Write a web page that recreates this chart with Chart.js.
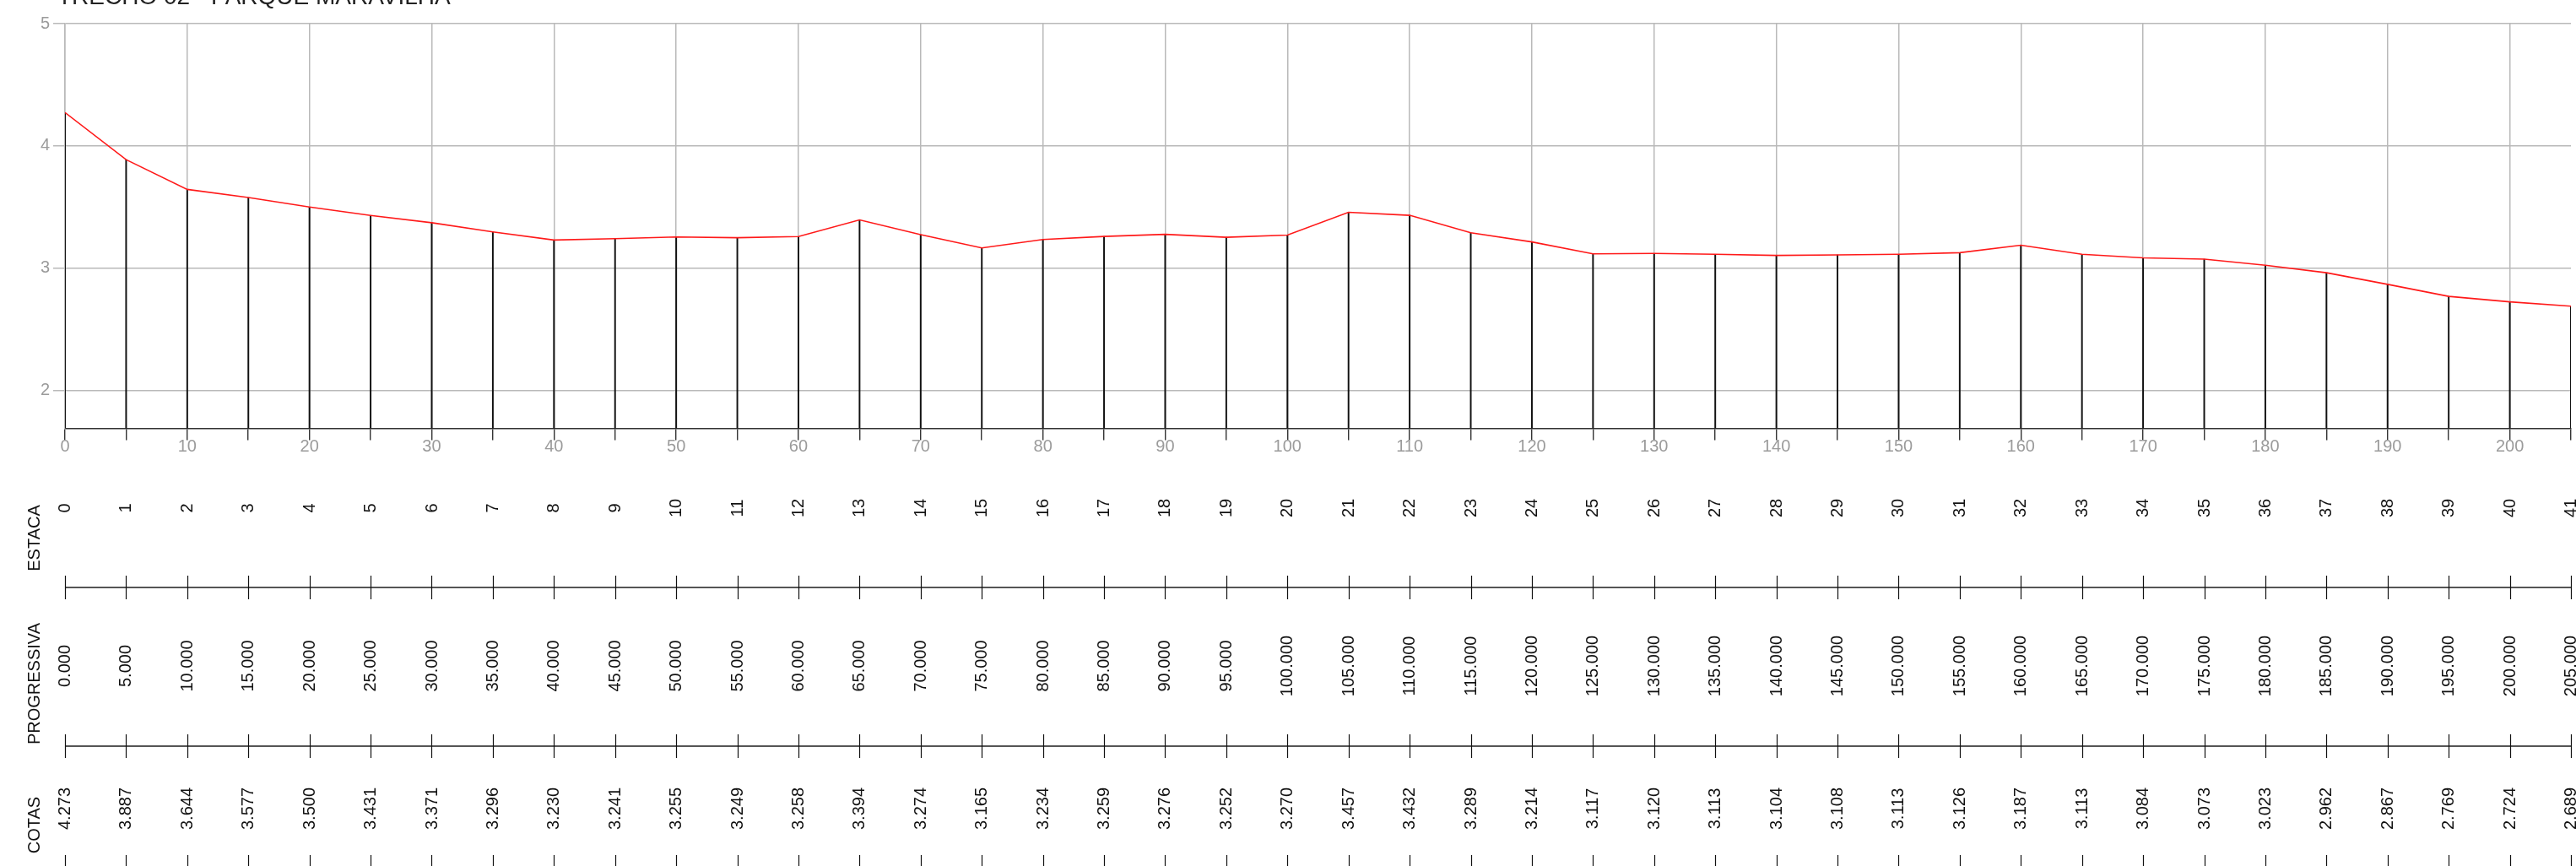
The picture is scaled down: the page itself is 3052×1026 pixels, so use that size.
<!DOCTYPE html>
<html>
<head>
<meta charset="utf-8">
<script src="https://cdn.jsdelivr.net/npm/chart.js@4.4.1/dist/chart.umd.min.js"></script>
<style>
html,body{margin:0;padding:0;background:#fff;overflow:hidden}
canvas{display:block}
</style>
</head>
<body>
<canvas id="c" width="3052" height="1026"></canvas>
<script>
// ---- data ----
const chartTitle = 'TRECHO 02 - PARQUE MARAVILHA';
const rowLabels = ['ESTACA', 'PROGRESSIVA', 'COTAS'];
const estaca = [0,1,2,3,4,5,6,7,8,9,10,11,12,13,14,15,16,17,18,19,20,21,22,23,24,25,26,27,28,29,30,31,32,33,34,35,36,37,38,39,40,41];
const progressiva = [0,5,10,15,20,25,30,35,40,45,50,55,60,65,70,75,80,85,90,95,100,105,110,115,120,125,130,135,140,145,150,155,160,165,170,175,180,185,190,195,200,205];
const cotas = [4.273,3.887,3.644,3.577,3.500,3.431,3.371,3.296,3.230,3.241,3.255,3.249,3.258,3.394,3.274,3.165,3.234,3.259,3.276,3.252,3.270,3.457,3.432,3.289,3.214,3.117,3.120,3.113,3.104,3.108,3.113,3.126,3.187,3.113,3.084,3.073,3.023,2.962,2.867,2.769,2.724,2.689];
const yMin = 1.689, yMax = 5;
const xMin = 0, xMax = 205;

// ---- styling ----
const FONT = "'Liberation Sans', Arial, Helvetica, sans-serif";
const GRID = '#b9b9b9';
const AXIS_TEXT = '#9b9b9b';

const points = progressiva.map((p, i) => ({x: p, y: cotas[i]}));

const titlePlugin = {
  id: 'topTitle',
  afterDraw(chart) {
    const c = chart.ctx;
    c.save();
    c.font = '28px ' + FONT;
    c.fillStyle = '#222';
    c.textAlign = 'left';
    c.textBaseline = 'alphabetic';
    c.fillText(chartTitle, 68, 4.5);
    c.restore();
  }
};

const tablePlugin = {
  id: 'profileTable',
  afterDraw(chart) {
    const c = chart.ctx;
    const xs = chart.scales.x;
    const area = chart.chartArea;
    const rows = [
      {label: rowLabels[0], texts: estaca.map(String), cy: 602, ly: 637.5},
      {label: rowLabels[1], texts: progressiva.map(v => v.toFixed(3)), cy: 789, ly: 810},
      {label: rowLabels[2], texts: cotas.map(v => v.toFixed(3)), cy: 958, ly: 977.5}
    ];
    const sepLines = [696, 884, 1027];
    c.save();
    c.font = '20px ' + FONT;
    c.fillStyle = '#111';
    c.textAlign = 'center';
    c.textBaseline = 'middle';
    rows.forEach(r => {
      // row title
      c.save();
      c.translate(41.5, r.ly);
      c.rotate(-Math.PI / 2);
      c.fillText(r.label, 0, 0);
      c.restore();
      r.texts.forEach((t, i) => {
        const px = xs.getPixelForValue(progressiva[i]);
        c.save();
        c.translate(px + 0.5, r.cy);
        c.rotate(-Math.PI / 2);
        c.fillText(t, 0, 0);
        c.restore();
      });
    });
    // separator lines with cross ticks
    sepLines.forEach(y => {
      c.strokeStyle = '#555';
      c.lineWidth = 2;
      c.beginPath();
      c.moveTo(area.left, y);
      c.lineTo(area.right, y);
      c.stroke();
      c.strokeStyle = '#111';
      c.lineWidth = 1.2;
      progressiva.forEach(p => {
        const px = Math.round(xs.getPixelForValue(p)) + 0.5;
        c.beginPath();
        c.moveTo(px, y - 14);
        c.lineTo(px, y + 14);
        c.stroke();
      });
    });
    c.restore();
  }
};

new Chart(document.getElementById('c').getContext('2d'), {
  type: 'line',
  data: {
    datasets: [
      {
        type: 'line',
        label: 'Cotas',
        data: points,
        borderColor: '#ff1a1a',
        borderWidth: 1.6,
        pointRadius: 0,
        tension: 0,
        fill: false,
        order: 0
      },
      {
        type: 'bar',
        label: 'Estacas',
        data: points,
        backgroundColor: '#111',
        borderWidth: 0,
        barThickness: 1.3,
        grouped: false,
        order: 1
      }
    ]
  },
  options: {
    responsive: false,
    animation: false,
    devicePixelRatio: 1,
    layout: {padding: {top: 28, right: 6, left: 0, bottom: 0}},
    plugins: {
      legend: {display: false},
      tooltip: {enabled: false},
      title: {display: false}
    },
    scales: {
      x: {
        type: 'linear',
        min: xMin,
        max: xMax,
        offset: false,
        grid: {
          offset: false,
          color: c => (c.tick && c.tick.value % 10 === 0) ? GRID : 'rgba(0,0,0,0)',
          lineWidth: 1.5,
          tickColor: '#111',
          tickWidth: 1.2,
          tickLength: 14,
          drawTicks: true
        },
        border: {color: '#333', width: 1.5},
        ticks: {
          stepSize: 5,
          autoSkip: false,
          maxRotation: 0,
          minRotation: 0,
          padding: -2,
          color: AXIS_TEXT,
          font: {family: FONT, size: 20, lineHeight: 1},
          callback: v => (v % 10 === 0 ? String(v) : '')
        },
        afterFit: s => { s.height = 1026 - 507.5; }
      },
      y: {
        type: 'linear',
        min: yMin,
        max: yMax,
        grid: {color: GRID, lineWidth: 1.5, tickLength: 14, tickColor: GRID},
        border: {color: GRID, width: 1.5},
        ticks: {
          stepSize: 1,
          includeBounds: false,
          padding: 4,
          color: AXIS_TEXT,
          font: {family: FONT, size: 20, lineHeight: 1}
        },
        afterFit: s => { s.width = 77; }
      }
    }
  },
  plugins: [titlePlugin, tablePlugin]
});
</script>
</body>
</html>
